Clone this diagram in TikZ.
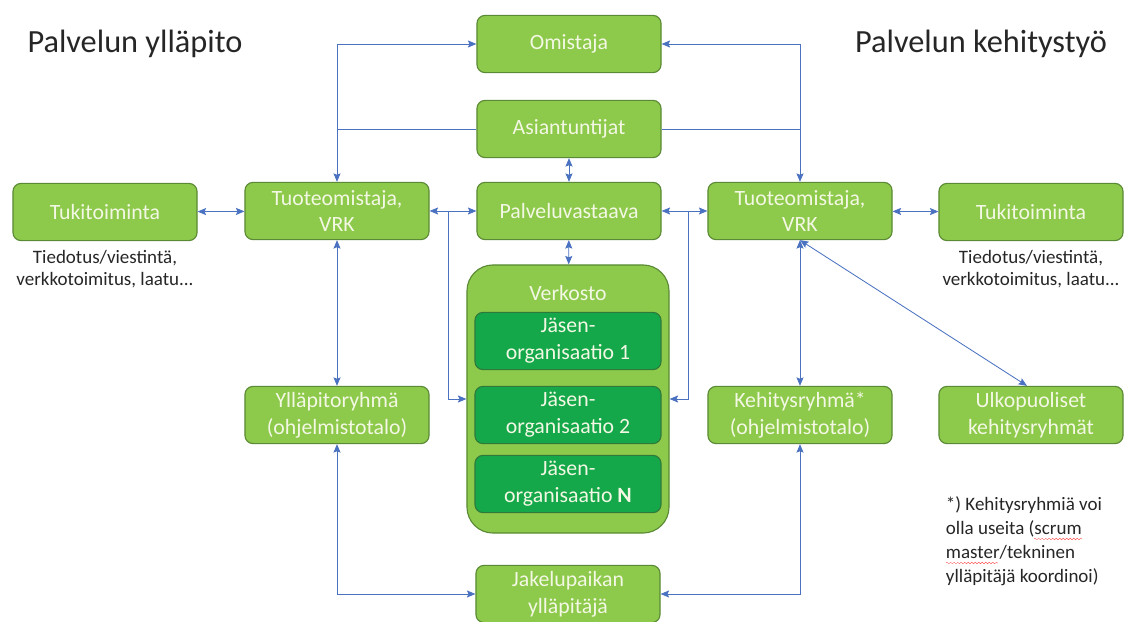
\documentclass[tikz,border=0pt]{standalone}
\usepackage{fontspec}
\setmainfont{Carlito}
\usepackage{tikz}
\usetikzlibrary{positioning}
\usetikzlibrary{arrows.meta}
\usetikzlibrary{decorations.pathmorphing}

\definecolor{boxgreen}{HTML}{8DC94A}
\definecolor{boxedge}{HTML}{5A8A35}
\definecolor{darkbox}{HTML}{14A84A}
\definecolor{darkedge}{HTML}{2F7A3A}
\definecolor{boxtext}{HTML}{F3F8E4}
\definecolor{arrowblue}{HTML}{4A72C0}

\begin{document}
\begin{tikzpicture}[x=0.025cm, y=-0.025cm,
	box/.style={rectangle, rounded corners=0.2cm, fill=boxgreen, draw=boxedge, thick,
		minimum width=4.6cm, minimum height=1.43cm, text=boxtext, align=center,
		font=\fontsize{15.5}{19}\selectfont, inner sep=0pt},
	member/.style={box, fill=darkbox, draw=darkedge, minimum width=4.65cm},
	netbox/.style={rectangle, rounded corners=0.65cm, fill=boxgreen, draw=boxedge, thick,
		minimum width=5.05cm, minimum height=6.7cm},
	title/.style={font=\fontsize{23}{26}\selectfont, text=black!85},
	caption/.style={font=\fontsize{13.5}{15.5}\selectfont, align=center, text=black!85},
	line/.style={draw=arrowblue, line width=0.6pt},
	arrow/.style={line, -{Stealth[length=6pt, width=5pt, inset=1pt]}},
	twoway/.style={line, {Stealth[length=6pt, width=5pt, inset=1pt]}-{Stealth[length=6pt, width=5pt, inset=1pt]}}
]

% Page frame
\useasboundingbox (0,0) rectangle (1133,622);

% Headings
\node[title] (tYllapito) at (135,44) {Palvelun ylläpito};
\node[title] (tKehitys) at (981,44) {Palvelun kehitystyö};

% Middle column
\node[box] (omistaja) at (569,44) {Omistaja};
\node[box] (asiantuntijat) at (569,129) {Asiantuntijat};
\node[box] (palvelu) at (569,211) {Palveluvastaava};

% Network with member organisations
\node[netbox] (verkosto) at (568,399) {};
\node[box, fill=none, draw=none] (verkostoT) at (568,293) {Verkosto};
\node[member] (jasen1) at (568,341) {Jäsen-\\organisaatio 1};
\node[member] (jasen2) at (568,415) {Jäsen-\\organisaatio 2};
\node[member] (jasenN) at (568,484) {Jäsen-\\organisaatio \textbf{N}};

\node[box] (jakelu) at (568,594) {Jakelupaikan\\ylläpitäjä};

% Maintenance side
\node[box] (tukiL) at (105,212) {Tukitoiminta};
\node[box] (tuoteL) at (337,211) {Tuoteomistaja,\\VRK};
\node[box] (yllapito) at (337,415) {Ylläpitoryhmä\\(ohjelmistotalo)};
\node[caption] (infoL) at (105,269) {Tiedotus/viestintä,\\verkkotoimitus, laatu...};

% Development side
\node[box] (tuoteR) at (800,211) {Tuoteomistaja,\\VRK};
\node[box] (tukiR) at (1031,212) {Tukitoiminta};
\node[box] (kehitys) at (800,415) {Kehitysryhmä*\\(ohjelmistotalo)};
\node[box] (ulko) at (1031,415) {Ulkopuoliset\\kehitysryhmät};
\node[caption] (infoR) at (1031,269) {Tiedotus/viestintä,\\verkkotoimitus, laatu...};

% Footnote
\node[caption, align=left, anchor=north west, font=\fontsize{13.5}{17}\selectfont] (note) at (941,492)
	{*) Kehitysryhmiä voi\\olla useita (scrum\\master/tekninen\\ylläpitäjä koordinoi)};
\draw[red!80, very thin, decorate, decoration={snake, amplitude=0.6pt, segment length=2.5pt}]
	(1034,539) -- (1082,539);
\draw[red!80, very thin, decorate, decoration={snake, amplitude=0.6pt, segment length=2.5pt}]
	(946,563) -- (998,563);

% Owner links
\draw[twoway] (tuoteL.north) |- (omistaja.west);
\draw[twoway] (tuoteR.north) |- (omistaja.east);
\draw[line] (asiantuntijat.west) -- (asiantuntijat.west -| tuoteL.north);
\draw[line] (asiantuntijat.east) -- (asiantuntijat.east -| tuoteR.north);

% Middle column links
\draw[twoway] (asiantuntijat) -- (palvelu);
\draw[twoway] (palvelu) -- (verkosto);
\draw[twoway] (tuoteL) -- (palvelu);
\draw[twoway] (palvelu) -- (tuoteR);

% Branches into the network
\coordinate (splitL) at (448,211);
\coordinate (splitR) at (688,211);
\draw[arrow] (splitL) |- (verkosto.west);
\draw[arrow] (splitR) |- (verkosto.east);

% Side links
\draw[twoway] (tukiL) -- (tuoteL);
\draw[twoway] (tuoteR) -- (tukiR);
\draw[twoway] (tuoteL) -- (yllapito);
\draw[twoway] (tuoteR) -- (kehitys);
\draw[twoway] (tuoteR.south) -- ([xshift=-0.1cm]ulko.north);

% Distribution links
\draw[twoway] (yllapito.south) |- (jakelu.west);
\draw[twoway] (kehitys.south) |- (jakelu.east);

\end{tikzpicture}
\end{document}
